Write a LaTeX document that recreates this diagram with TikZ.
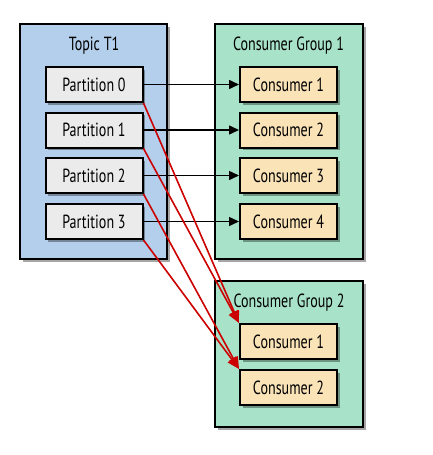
\documentclass[tikz,border=0pt]{standalone}
\usepackage{fontspec}
\setmainfont[FakeStretch=0.74]{PT Sans}
\usetikzlibrary{arrows.meta,shadows}
\definecolor{topicblue}{HTML}{B3CFEB}
\definecolor{groupgreen}{HTML}{A8E3C9}
\definecolor{partgray}{HTML}{EBEBEB}
\definecolor{consorange}{HTML}{FBE3B8}
\definecolor{arrowred}{HTML}{CC0000}
\begin{document}
\begin{tikzpicture}[x=1pt,y=-1pt,
  boxshadow/.style={drop shadow={shadow xshift=2.5pt,shadow yshift=-2.5pt,opacity=0.35,fill=black}},
  container/.style={draw=black,line width=2pt,boxshadow,inner sep=0pt,minimum width=148pt},
  item/.style={draw=black,line width=2pt,boxshadow,inner sep=0pt,minimum width=97pt,minimum height=35pt,font=\fontsize{19}{21}\selectfont},
  part/.style={item,fill=partgray},
  cons/.style={item,fill=consorange},
  title/.style={font=\fontsize{19}{21}\selectfont,inner sep=0pt},
  flow/.style={line width=1.5pt,-{Triangle[length=10pt,width=9pt]}},
  redflow/.style={line width=1.6pt,draw=arrowred,-{Triangle[length=12pt,width=10pt]},color=arrowred}]
\useasboundingbox (0,0) rectangle (432,455);
\node[container,fill=topicblue,minimum width=147pt,minimum height=235pt] (topic) at (93.5,141.5) {};
\node[container,fill=groupgreen,minimum height=235pt] (g1) at (289,141.5) {};
\node[container,fill=groupgreen,minimum height=146pt] (g2) at (289,354) {};
\node[title] (ttopic) at (94,46) {Topic T1};
\node[title] (tg1) at (288.5,46) {Consumer Group 1};
\node[title] (tg2) at (289,303) {Consumer Group 2};
\node[part] (p0) at (94,84.5) {Partition 0};
\node[part] (p1) at (94,130) {Partition 1};
\node[part] (p2) at (94,175.5) {Partition 2};
\node[part] (p3) at (94,221.5) {Partition 3};
\node[cons] (c1) at (288.5,84.5) {Consumer 1};
\node[cons] (c2) at (288.5,130) {Consumer 2};
\node[cons] (c3) at (288.5,175.5) {Consumer 3};
\node[cons] (c4) at (288.5,221.5) {Consumer 4};
\node[cons] (d1) at (288.5,341.5) {Consumer 1};
\node[cons] (d2) at (288.5,387.5) {Consumer 2};
\draw[flow] (p0.east) -- (c1.west);
\draw[flow] (p1.east) -- (c2.west);
\draw[flow] (p2.east) -- (c3.west);
\draw[flow] (p3.east) -- (c4.west);
\draw[redflow] (p0.south east) -- (d1.north west);
\draw[redflow] (p1.south east) -- (d1.north west);
\draw[redflow] (p2.south east) -- (d2.north west);
\draw[redflow] (p3.south east) -- (d2.north west);
\end{tikzpicture}
\end{document}
